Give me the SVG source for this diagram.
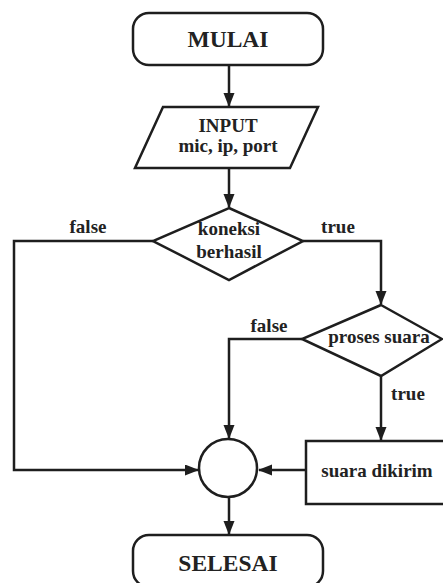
<svg xmlns="http://www.w3.org/2000/svg" width="443" height="583" viewBox="0 0 443 583">
<style>
.s{fill:#fff;stroke:#1e1e1e;stroke-width:2.5}
.c{fill:none;stroke:#1e1e1e;stroke-width:2.5}
text{font-family:"Liberation Serif","Times New Roman",serif;font-weight:bold;fill:#222;text-anchor:middle}
.t{font-size:23.5px}
.n{font-size:19px}
</style>
<defs>
<marker id="a" markerUnits="userSpaceOnUse" markerWidth="14" markerHeight="12" refX="13" refY="5.5" orient="auto">
<path d="M0,0 L14,5.5 L0,11 z" fill="#1e1e1e"/>
</marker>
</defs>
<rect width="443" height="583" fill="#fff"/>
<g id="connectors">
<path class="c" d="M229,65 V106" marker-end="url(#a)"/>
<path class="c" d="M229,168 V207" marker-end="url(#a)"/>
<path class="c" d="M153,241 H14 V470 H198" marker-end="url(#a)"/>
<path class="c" d="M303,241 H381 V304" marker-end="url(#a)"/>
<path class="c" d="M302,339 H229 V438" marker-end="url(#a)"/>
<path class="c" d="M381,376 V440" marker-end="url(#a)"/>
<path class="c" d="M306,470 H259" marker-end="url(#a)"/>
<path class="c" d="M229,498 V534" marker-end="url(#a)"/>
</g>
<g id="mulai">
<rect class="s" x="133" y="13" width="190" height="52" rx="16"/>
<text class="t" x="228" y="47">MULAI</text>
</g>
<g id="input">
<polygon class="s" points="163,107 318,107 290,168 135,168"/>
<text class="n" x="228" y="132">INPUT</text>
<text class="n" x="228" y="152">mic, ip, port</text>
</g>
<g id="koneksi">
<polygon class="s" points="229,208 303,241 229,280 153,241"/>
<text class="n" x="229" y="235">koneksi</text>
<text class="n" x="229" y="258">berhasil</text>
</g>
<g id="labels">
<text class="n" x="88" y="233">false</text>
<text class="n" x="338" y="233">true</text>
<text class="n" x="269" y="332">false</text>
<text class="n" x="408" y="400">true</text>
</g>
<g id="proses">
<polygon class="s" points="381,305 442,339 381,376 302,339"/>
<text class="n" x="379" y="343">proses suara</text>
</g>
<g id="kirim">
<rect class="s" x="306" y="441" width="150" height="63"/>
<text class="n" x="377" y="477">suara dikirim</text>
</g>
<g id="merge">
<circle class="s" cx="228" cy="468" r="29"/>
</g>
<g id="selesai">
<rect class="s" x="133" y="535" width="190" height="52" rx="16"/>
<text class="t" x="228" y="571">SELESAI</text>
</g>
</svg>
